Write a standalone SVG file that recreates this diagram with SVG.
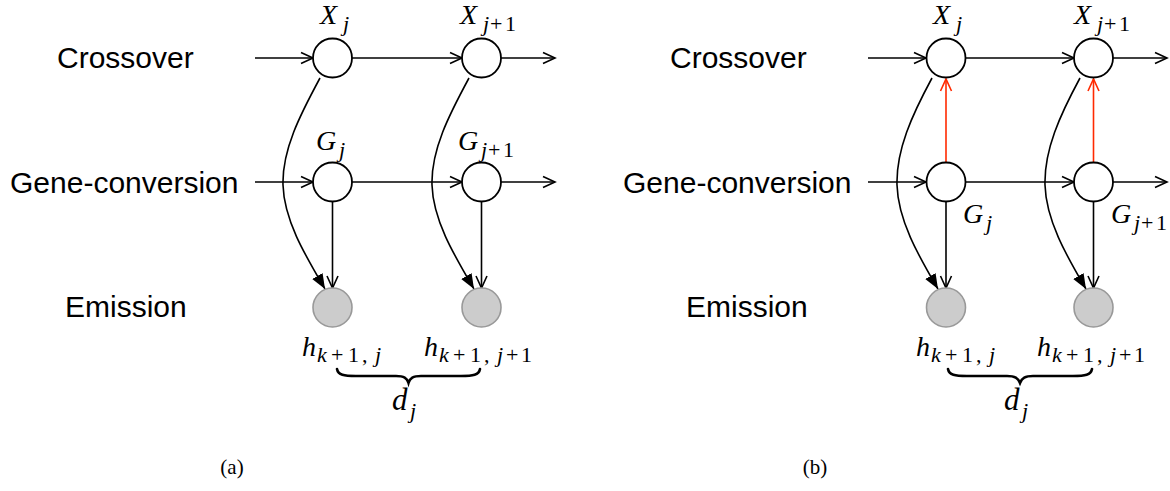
<svg xmlns="http://www.w3.org/2000/svg" width="1170" height="491" viewBox="0 0 1170 491">
  <style>
    .lbl { font-family: "Liberation Sans", Arial, sans-serif; font-size: 30px; fill: #000; }
    .math { font-family: "Liberation Serif", "DejaVu Serif", serif; font-style: italic; font-size: 28px; fill: #000; }
    .sub { font-size: 22px; }
    .up { font-style: normal; font-size: 22px; }
    .cap { font-family: "Liberation Serif", "DejaVu Serif", serif; font-size: 21px; fill: #000; }
    .node { fill: #fff; stroke: #000; stroke-width: 1.8; }
    .obs { fill: #cccccc; stroke: #999999; stroke-width: 1.6; }
    .edge { fill: none; stroke: #000; stroke-width: 1.6; marker-end: url(#open); }
    .curve { fill: none; stroke: #000; stroke-width: 1.6; marker-end: url(#solid); }
    .red { fill: none; stroke: #ff2a00; stroke-width: 1.6; marker-end: url(#openRed); }
    .brace { fill: none; stroke: #000; stroke-width: 2.6; stroke-linecap: round; }
  </style>
  <defs>
    <marker id="open" markerUnits="userSpaceOnUse" markerWidth="16" markerHeight="14" refX="13" refY="7" orient="auto">
      <path d="M1,1.5 L13,7 L1,12.5" fill="none" stroke="#000" stroke-width="1.6"/>
    </marker>
    <marker id="openRed" markerUnits="userSpaceOnUse" markerWidth="16" markerHeight="14" refX="13" refY="7" orient="auto">
      <path d="M1,1.5 L13,7 L1,12.5" fill="none" stroke="#ff2a00" stroke-width="1.6"/>
    </marker>
    <marker id="solid" markerUnits="userSpaceOnUse" markerWidth="16" markerHeight="12" refX="15" refY="6" orient="auto">
      <path d="M0,0 L15,6 L0,12 z" fill="#000"/>
    </marker>
  </defs>

  <!-- row titles -->
  <g id="titles-a">
    <text class="lbl" x="57" y="68">Crossover</text>
    <text class="lbl" x="10" y="193">Gene-conversion</text>
    <text class="lbl" x="65" y="317">Emission</text>
  </g>
  <g id="titles-b">
    <text class="lbl" x="670" y="68">Crossover</text>
    <text class="lbl" x="623" y="193">Gene-conversion</text>
    <text class="lbl" x="686" y="317">Emission</text>
  </g>

  <!-- connectors -->
  <g id="connectors">
    <!-- (a) horizontal chains -->
    <path class="edge" d="M255,58 L313,58"/>
    <path class="edge" d="M352,58 L462,58"/>
    <path class="edge" d="M501,58 L555,58"/>
    <path class="edge" d="M255,182 L313,182"/>
    <path class="edge" d="M352,182 L462,182"/>
    <path class="edge" d="M501,182 L555,182"/>
    <!-- (a) gene-conversion to emission -->
    <path class="edge" d="M332.5,201.5 L332.5,288"/>
    <path class="edge" d="M481.5,201.5 L481.5,288"/>
    <!-- (a) crossover to emission -->
    <path class="curve" d="M320,78 C300,115 282,150 283,185 C284,220 305,255 325,289"/>
    <path class="curve" d="M469,78 C449,115 431,150 432,185 C433,220 454,255 474,289"/>

    <!-- (b) horizontal chains -->
    <path class="edge" d="M868,58 L926,58"/>
    <path class="edge" d="M965.5,58 L1074,58"/>
    <path class="edge" d="M1113,58 L1167,58"/>
    <path class="edge" d="M868,182 L926,182"/>
    <path class="edge" d="M965.5,182 L1074,182"/>
    <path class="edge" d="M1113,182 L1167,182"/>
    <!-- (b) gene-conversion to crossover -->
    <path class="red" d="M946,162.5 L946,79"/>
    <path class="red" d="M1093.5,162.5 L1093.5,79"/>
    <!-- (b) gene-conversion to emission -->
    <path class="edge" d="M946,201.5 L946,288"/>
    <path class="edge" d="M1093.5,201.5 L1093.5,288"/>
    <!-- (b) crossover to emission -->
    <path class="curve" d="M932,78 C912,115 896,150 897,185 C898,220 918,255 938,289"/>
    <path class="curve" d="M1080,78 C1060,115 1044,150 1045,185 C1046,220 1066,255 1086,289"/>
  </g>

  <!-- (a) nodes -->
  <g id="a-X-j">
    <circle class="node" cx="332.5" cy="58" r="19.5"/>
    <text class="math" y="24"><tspan x="320">X</tspan><tspan class="sub" x="343" y="31">j</tspan></text>
  </g>
  <g id="a-X-j1">
    <circle class="node" cx="481.5" cy="58" r="19.5"/>
    <text class="math" y="24"><tspan x="460">X</tspan><tspan class="sub" x="483" y="31">j</tspan><tspan class="up" x="490" y="31">+</tspan><tspan class="up" x="505" y="31">1</tspan></text>
  </g>
  <g id="a-G-j">
    <circle class="node" cx="332.5" cy="182" r="19.5"/>
    <text class="math" y="150"><tspan x="316">G</tspan><tspan class="sub" x="339" y="157">j</tspan></text>
  </g>
  <g id="a-G-j1">
    <circle class="node" cx="481.5" cy="182" r="19.5"/>
    <text class="math" y="150"><tspan x="458">G</tspan><tspan class="sub" x="481" y="157">j</tspan><tspan class="up" x="488" y="157">+</tspan><tspan class="up" x="503" y="157">1</tspan></text>
  </g>
  <g id="a-h-j">
    <circle class="obs" cx="332.5" cy="307.5" r="19.5"/>
    <text class="math" y="356"><tspan x="302">h</tspan><tspan class="sub" x="317" y="362">k</tspan><tspan class="up" x="331" y="362">+</tspan><tspan class="up" x="348" y="362">1</tspan><tspan class="up" x="362" y="362">,</tspan><tspan class="sub" x="375" y="362">j</tspan></text>
  </g>
  <g id="a-h-j1">
    <circle class="obs" cx="481.5" cy="307.5" r="19.5"/>
    <text class="math" y="356"><tspan x="424">h</tspan><tspan class="sub" x="439" y="362">k</tspan><tspan class="up" x="453" y="362">+</tspan><tspan class="up" x="470" y="362">1</tspan><tspan class="up" x="484" y="362">,</tspan><tspan class="sub" x="497" y="362">j</tspan><tspan class="up" x="506" y="362">+</tspan><tspan class="up" x="521" y="362">1</tspan></text>
  </g>
  <g id="a-d-j">
    <path class="brace" d="M337,369 C338,375 344,376 356,376 L396,376 C404,376 407,378 408.5,383 C410,378 413,376 421,376 L461,376 C473,376 479,375 480,369"/>
    <text class="math" y="410"><tspan x="392" font-size="31">d</tspan><tspan x="410" y="418" font-size="22">j</tspan></text>
  </g>
  <text class="cap" x="232" y="474" text-anchor="middle">(a)</text>

  <!-- (b) nodes -->
  <g id="b-X-j">
    <circle class="node" cx="946" cy="58" r="19.5"/>
    <text class="math" y="24"><tspan x="933">X</tspan><tspan class="sub" x="956" y="31">j</tspan></text>
  </g>
  <g id="b-X-j1">
    <circle class="node" cx="1093.5" cy="58" r="19.5"/>
    <text class="math" y="24"><tspan x="1074">X</tspan><tspan class="sub" x="1097" y="31">j</tspan><tspan class="up" x="1104" y="31">+</tspan><tspan class="up" x="1119" y="31">1</tspan></text>
  </g>
  <g id="b-G-j">
    <circle class="node" cx="946" cy="182" r="19.5"/>
    <text class="math" y="223"><tspan x="963">G</tspan><tspan class="sub" x="986" y="230">j</tspan></text>
  </g>
  <g id="b-G-j1">
    <circle class="node" cx="1093.5" cy="182" r="19.5"/>
    <text class="math" y="223"><tspan x="1111">G</tspan><tspan class="sub" x="1134" y="230">j</tspan><tspan class="up" x="1141" y="230">+</tspan><tspan class="up" x="1156" y="230">1</tspan></text>
  </g>
  <g id="b-h-j">
    <circle class="obs" cx="946" cy="307.5" r="19.5"/>
    <text class="math" y="356"><tspan x="916">h</tspan><tspan class="sub" x="931" y="362">k</tspan><tspan class="up" x="945" y="362">+</tspan><tspan class="up" x="962" y="362">1</tspan><tspan class="up" x="976" y="362">,</tspan><tspan class="sub" x="989" y="362">j</tspan></text>
  </g>
  <g id="b-h-j1">
    <circle class="obs" cx="1093.5" cy="307.5" r="19.5"/>
    <text class="math" y="356"><tspan x="1037">h</tspan><tspan class="sub" x="1052" y="362">k</tspan><tspan class="up" x="1066" y="362">+</tspan><tspan class="up" x="1083" y="362">1</tspan><tspan class="up" x="1097" y="362">,</tspan><tspan class="sub" x="1110" y="362">j</tspan><tspan class="up" x="1119" y="362">+</tspan><tspan class="up" x="1134" y="362">1</tspan></text>
  </g>
  <g id="b-d-j">
    <path class="brace" d="M948,369 C949,375 955,376 967,376 L1007,376 C1015,376 1018,378 1020,383 C1022,378 1025,376 1033,376 L1073,376 C1085,376 1091,375 1092,369"/>
    <text class="math" y="410"><tspan x="1004" font-size="31">d</tspan><tspan x="1022" y="418" font-size="22">j</tspan></text>
  </g>
  <text class="cap" x="815" y="474" text-anchor="middle">(b)</text>
</svg>
